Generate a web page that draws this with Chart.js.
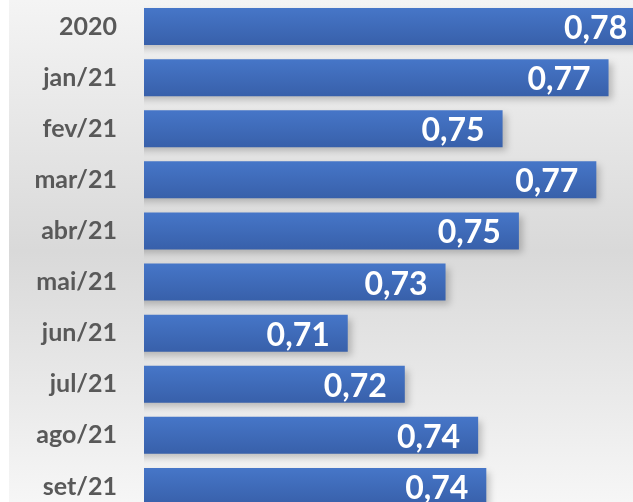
<!DOCTYPE html>
<html>
<head>
<meta charset="utf-8">
<script src="https://cdn.jsdelivr.net/npm/chart.js@4"></script>
<style>
  html, body { margin: 0; padding: 0; overflow: hidden; background: #ffffff; }
  #wrap { width: 633px; height: 512px; position: relative; }
</style>
</head>
<body>
<div id="wrap"><canvas id="c" width="633" height="512"></canvas></div>
<script>
const categories = ['2020', 'jan/21', 'fev/21', 'mar/21', 'abr/21', 'mai/21', 'jun/21', 'jul/21', 'ago/21', 'set/21'];
const values = [0.783, 0.774, 0.748, 0.771, 0.752, 0.734, 0.710, 0.724, 0.742, 0.744];
const axisMin = 0.66;
const axisMax = 0.78;

function barFill(ctx) {
  const chart = ctx.chart;
  const ys = chart.scales && chart.scales.y;
  if (!ys || ctx.dataIndex === undefined) return '#4170bf';
  const c = ys.getPixelForValue(ctx.dataIndex);
  if (!isFinite(c)) return '#4170bf';
  const g = chart.ctx.createLinearGradient(0, c - 18.5, 0, c + 18.5);
  g.addColorStop(0, '#4676c8');
  g.addColorStop(1, '#3860aa');
  return g;
}

const bgPlugin = {
  id: 'bg',
  beforeDraw(chart) {
    const { ctx, width, height } = chart;
    ctx.save();
    ctx.fillStyle = '#ffffff';
    ctx.fillRect(0, 0, width, height);
    const g = ctx.createLinearGradient(0, 0, 0, 502);
    g.addColorStop(0, '#f4f4f4');
    g.addColorStop(0.5, '#d9d9d9');
    g.addColorStop(1, '#f6f6f6');
    ctx.fillStyle = g;
    ctx.fillRect(9, 0, width - 9, height);
    ctx.restore();
  }
};

const shadowPlugin = {
  id: 'shadow',
  beforeDatasetsDraw(chart) {
    const ctx = chart.ctx;
    ctx.save();
    ctx.shadowColor = 'rgba(0,0,0,0.22)';
    ctx.shadowBlur = 7;
    ctx.shadowOffsetX = 4;
    ctx.shadowOffsetY = 4;
  },
  afterDatasetsDraw(chart) {
    chart.ctx.restore();
  }
};

const labelPlugin = {
  id: 'vals',
  afterDraw(chart) {
    const ctx = chart.ctx;
    const meta = chart.getDatasetMeta(0);
    ctx.save();
    ctx.font = 'bold 32px Lato';
    ctx.fillStyle = '#ffffff';
    ctx.textAlign = 'right';
    ctx.textBaseline = 'alphabetic';
    meta.data.forEach((el, i) => {
      const txt = values[i].toFixed(2).replace('.', ',');
      ctx.fillText(txt, el.x - 18, el.y + 12.5);
    });
    ctx.restore();
  }
};

new Chart(document.getElementById('c'), {
  type: 'bar',
  data: {
    labels: categories,
    datasets: [{
      data: values,
      backgroundColor: barFill,
      borderWidth: 0,
      categoryPercentage: 1,
      barPercentage: 0.724
    }]
  },
  options: {
    indexAxis: 'y',
    responsive: false,
    animation: false,
    events: [],
    layout: { padding: { top: 1, bottom: 0, left: 0, right: 0 } },
    plugins: { legend: { display: false }, tooltip: { enabled: false } },
    scales: {
      x: { display: false, min: axisMin, max: axisMax },
      y: {
        grid: { display: false, drawTicks: false },
        border: { display: false },
        ticks: {
          color: '#595959',
          font: { family: 'Lato', weight: 'bold', size: 25 },
          padding: 27
        },
        afterFit(axis) {
          axis.width = 144;
          axis.paddingTop = 0;
          axis.paddingBottom = 0;
        }
      }
    }
  },
  plugins: [bgPlugin, shadowPlugin, labelPlugin]
});
</script>
</body>
</html>
